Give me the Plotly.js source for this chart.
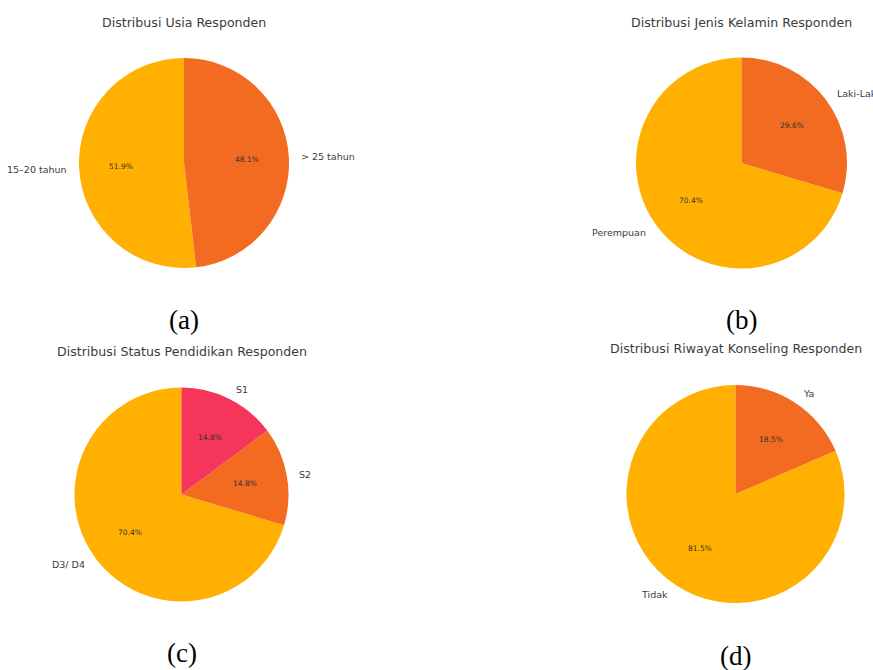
<!DOCTYPE html>
<html>
<head>
<meta charset="utf-8">
<script src="https://cdn.plot.ly/plotly-3.0.1.min.js"></script>
<style>html,body{margin:0;padding:0;background:#fff;}#chart{width:873px;height:670px;}</style>
</head>
<body>
<div id="chart"></div>
<script>
// ---- data ----
const titles = ["Distribusi Usia Responden", "Distribusi Jenis Kelamin Responden", "Distribusi Status Pendidikan Responden", "Distribusi Riwayat Konseling Responden"];
const panelTags = ["(a)", "(b)", "(c)", "(d)"];
const usiaLabels = ["15–20 tahun", "> 25 tahun"];
const usiaValues = [14, 13];
const kelaminLabels = ["Perempuan", "Laki-Laki"];
const kelaminValues = [19, 8];
const pendidikanLabels = ["D3/ D4", "S2", "S1"];
const pendidikanValues = [19, 4, 4];
const konselingLabels = ["Tidak", "Ya"];
const konselingValues = [22, 5];
const sliceColors = ["#FFB000", "#F26B21", "#F5355A"];

// ---- layout (pixels) ----
const W = 873, H = 670;
const panels = [
  {labels: usiaLabels, values: usiaValues, cx: 184, cy: 163, r: 105, ty: 23, tagY: 320},
  {labels: kelaminLabels, values: kelaminValues, cx: 741.5, cy: 163, r: 105.5, ty: 23, tagY: 320},
  {labels: pendidikanLabels, values: pendidikanValues, cx: 181.5, cy: 494.5, r: 107, ty: 351, tagY: 653},
  {labels: konselingLabels, values: konselingValues, cx: 735.5, cy: 494, r: 109, ty: 348, tagY: 656}
];

const px = x => x / W;
const py = y => 1 - y / H;

const traces = [];
const annotations = [];
panels.forEach((p, i) => {
  const total = p.values.reduce((a, b) => a + b, 0);
  traces.push({
    type: 'pie',
    labels: p.labels,
    values: p.values,
    sort: false,
    direction: 'counterclockwise',
    // plotly puts the first slice clockwise of 12 o'clock; shift so it starts at 12 going counterclockwise (matplotlib startangle=90)
    rotation: -p.values[0] / total * 360,
    textinfo: 'none',
    hoverinfo: 'none',
    showlegend: false,
    marker: {colors: sliceColors.slice(0, p.values.length), line: {width: 0}},
    domain: {x: [px(p.cx - p.r), px(p.cx + p.r)], y: [py(p.cy + p.r), py(p.cy - p.r)]}
  });
  let start = 90;
  p.values.forEach((v, k) => {
    const sweep = v / total * 360;
    const mid = (start + sweep / 2) * Math.PI / 180;
    start += sweep;
    const c = Math.cos(mid), s = Math.sin(mid);
    annotations.push({
      xref: 'paper', yref: 'paper',
      x: px(p.cx + 1.1 * p.r * c), y: py(p.cy - 1.1 * p.r * s),
      text: p.labels[k], showarrow: false,
      xanchor: c >= 0 ? 'left' : 'right', yanchor: 'middle',
      font: {family: 'DejaVu Sans', size: 9.5, color: '#3c3c3c'}
    });
    annotations.push({
      xref: 'paper', yref: 'paper',
      x: px(p.cx + 0.6 * p.r * c), y: py(p.cy - 0.6 * p.r * s),
      text: (v / total * 100).toFixed(1) + '%', showarrow: false,
      xanchor: 'center', yanchor: 'middle',
      font: {family: 'DejaVu Sans', size: 7.5, color: '#333'}
    });
  });
  annotations.push({
    xref: 'paper', yref: 'paper', x: px(p.cx), y: py(p.ty),
    text: titles[i], showarrow: false, xanchor: 'center', yanchor: 'middle',
    font: {family: 'DejaVu Sans', size: 12.6, color: '#3c3c3c'}
  });
  annotations.push({
    xref: 'paper', yref: 'paper', x: px(p.cx), y: py(p.tagY),
    text: panelTags[i], showarrow: false, xanchor: 'center', yanchor: 'middle',
    font: {family: 'Liberation Serif', size: 27, color: '#000'}
  });
});

Plotly.newPlot('chart', traces, {
  width: W, height: H,
  margin: {l: 0, r: 0, t: 0, b: 0},
  paper_bgcolor: '#fff',
  annotations: annotations
}, {displayModeBar: false, staticPlot: true});
</script>
</body>
</html>
